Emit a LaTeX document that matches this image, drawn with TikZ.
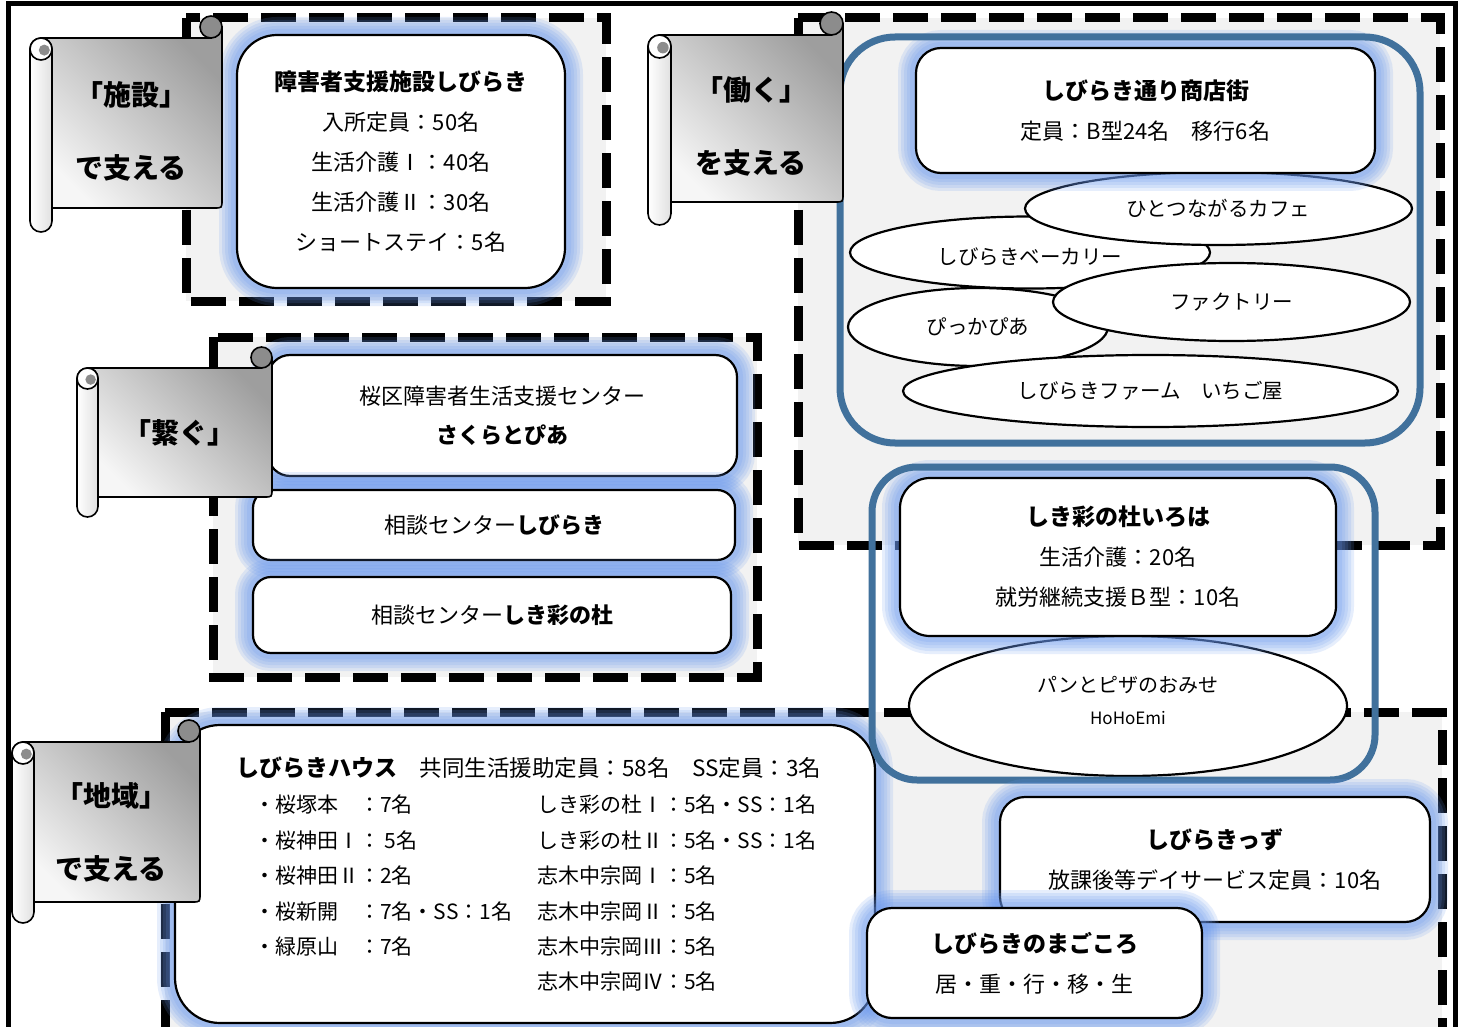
\documentclass[tikz,border=0pt]{standalone}
\usepackage{fontspec}
\setmainfont{Noto Sans CJK JP}
\usetikzlibrary{shapes.geometric}

\definecolor{zonegray}{RGB}{242,242,242}
\definecolor{glowc}{RGB}{105,152,238}
\definecolor{steel}{RGB}{65,113,156}
\definecolor{scrolldark}{RGB}{158,158,158}
\definecolor{scrolllight}{RGB}{246,246,246}
\definecolor{curlgray}{RGB}{140,140,140}

\tikzset{
  zone/.style={draw=black, line width=9pt, dash pattern=on 35pt off 13pt, fill=zonegray},
  glow/.style={preaction={draw=glowc, line width=36pt, opacity=.16},
               preaction={draw=glowc, line width=30pt, opacity=.16},
               preaction={draw=glowc, line width=24pt, opacity=.16},
               preaction={draw=glowc, line width=18pt, opacity=.16},
               preaction={draw=glowc, line width=12pt, opacity=.18}},
  card/.style={draw=black, line width=2.2pt, fill=white, glow, align=center, inner sep=0pt,
               font=\fontsize{22}{40}\selectfont},
  spot/.style={ellipse, draw=black, line width=2.2pt, fill=white, inner sep=0pt, align=center,
               font=\fontsize{20.5}{32}\selectfont},
  steelbox/.style={draw=steel, line width=7pt, inner sep=0pt},
  scrolltext/.style={align=center, font=\bfseries\fontsize{28}{73}\selectfont},
  listtext/.style={align=left, anchor=north west, inner sep=0pt, font=\fontsize{21}{35.4}\selectfont},
}

\begin{document}
\begin{tikzpicture}[x=1pt, y=-1pt]

  \useasboundingbox (0,0) rectangle (1467,1027);
  \clip (0,0) rectangle (1467,1027);
  \fill[white] (0,0) rectangle (1467,1027);
  \draw[line width=5pt] (8,4) rectangle (1455,1060);

  % zones
  \draw[zone] (186,18) rectangle (606,301);
  \draw[zone] (798,18) rectangle (1440,545);
  \draw[zone] (213,337) rectangle (757,677);
  \draw[zone] (165,712) rectangle (1442,1060);

  % shisetsu
  \node[card, rounded corners=40pt, minimum width=328pt, minimum height=253pt] (shisetsu) at (401,161.5)
    {{\bfseries\fontsize{23}{40}\selectfont 障害者支援施設しびらき}\\入所定員：50名\\生活介護Ⅰ：40名\\生活介護Ⅱ：30名\\ショートステイ：5名};

  % hataraku
  \node[spot, minimum width=360pt, minimum height=72pt] (bakery) at (1030,252.5) {};
  \node[font=\fontsize{20.5}{32}\selectfont] (bakerytext) at (1030,257) {しびらきベーカリー};
  \node[spot, minimum width=387pt, minimum height=73pt] (cafe) at (1218.5,208.5) {ひとつながるカフェ};
  \node[spot, minimum width=260pt, minimum height=78pt] (pikka) at (978,327) {ぴっかぴあ};
  \node[spot, minimum width=357pt, minimum height=78pt] (factory) at (1231.5,302) {ファクトリー};
  \node[spot, minimum width=495pt, minimum height=72pt] (farm) at (1150.5,391) {しびらきファーム　いちご屋};
  \node[card, rounded corners=25pt, minimum width=459pt, minimum height=125pt] (shoutengai) at (1145.5,110.5)
    {{\bfseries\fontsize{23}{40}\selectfont しびらき通り商店街}\\定員：B型24名　移行6名};
  \node[steelbox, rounded corners=55pt, minimum width=580pt, minimum height=406pt] (workframe) at (1130,240) {};

  % tsunagu
  \node[card, rounded corners=22pt, minimum width=469pt, minimum height=121pt, font=\fontsize{22}{39}\selectfont]
    (sakura) at (502.5,415.5) {桜区障害者生活支援センター\\\textbf{さくらとぴあ}};
  \node[card, rounded corners=18pt, minimum width=482pt, minimum height=70pt] (soudanA) at (494,525)
    {相談センター\textbf{しびらき}};
  \node[card, rounded corners=18pt, minimum width=478pt, minimum height=76pt] (soudanB) at (492,615)
    {相談センター\textbf{しき彩の杜}};

  % chiiki
  \node[card, rounded corners=45pt, minimum width=700pt, minimum height=298pt] (house) at (525,874) {};
  \node[anchor=west, inner sep=0pt, font=\fontsize{22.5}{26}\selectfont] (housetitle) at (236,768)
    {\textbf{\fontsize{23}{26}\selectfont しびらきハウス}　共同生活援助定員：58名　SS定員：3名};
  \node[listtext] (houseleft) at (254,795)
    {・桜塚本　：7名\\・桜神田Ⅰ： 5名\\・桜神田Ⅱ：2名\\・桜新開　：7名・SS：1名\\・緑原山　：7名};
  \node[listtext] (houseright) at (537,795)
    {しき彩の杜Ⅰ：5名・SS：1名\\しき彩の杜Ⅱ：5名・SS：1名\\志木中宗岡Ⅰ：5名\\志木中宗岡Ⅱ：5名\\志木中宗岡Ⅲ：5名\\志木中宗岡Ⅳ：5名};

  % iroha
  \node[spot, minimum width=438pt, minimum height=140pt] (hohoemi) at (1128,706) {};
  \node[align=center, font=\fontsize{20}{32}\selectfont] (hohoemitext) at (1128,701)
    {パンとピザのおみせ\\{\fontsize{17}{32}\selectfont HoHoEmi}};
  \node[card, rounded corners=30pt, minimum width=436pt, minimum height=158pt] (iroha) at (1118,557)
    {{\bfseries\fontsize{23}{40}\selectfont しき彩の杜いろは}\\生活介護：20名\\就労継続支援Ｂ型：10名};
  \node[steelbox, rounded corners=45pt, minimum width=503pt, minimum height=313pt] (irohaframe) at (1123.5,623.5) {};

  \node[card, rounded corners=25pt, minimum width=430pt, minimum height=125pt] (kids) at (1215,859.5)
    {{\bfseries\fontsize{23}{40}\selectfont しびらきっず}\\放課後等デイサービス定員：10名};
  \node[card, rounded corners=25pt, minimum width=335pt, minimum height=110pt] (magokoro) at (1034.5,963)
    {{\bfseries\fontsize{23}{40}\selectfont しびらきのまごころ}\\居・重・行・移・生};

  % scrolls
  \foreach \lx/\ty/\rx/\by/\sz/\ey in {30/38/222/208/22/232, 648/35/843/202/23/225,
                                      77/368/272/497/21/517, 12/742/200/902/22/923}
  {
    \pgfmathsetmacro\hs{\sz/2}
    \path[draw, line width=1.6pt, top color=scrolldark, bottom color=scrolllight, shading angle=-45]
      (\lx+\hs,\ty) -- (\rx-\hs,\ty) -- (\rx-\hs,\ty-\hs) -- (\rx,\ty-\hs) -- (\rx,\by-8)
      .. controls (\rx,\by) .. (\rx-8,\by) -- (\lx+\hs,\by) -- cycle;
    \draw[line width=1.6pt, fill=curlgray] (\rx-\hs,\ty-\hs) circle (\hs);
    \draw[line width=1.6pt, left color=white, right color=black!12, rounded corners=\hs pt]
      (\lx,\ty) rectangle (\lx+\sz,\ey);
    \draw[line width=1.6pt, fill=white] (\lx+\hs,\ty+\hs) circle (\hs);
    \fill[curlgray] (\lx+\hs*1.3,\ty+\hs*1.1) circle (\hs*0.5);
  }
  \node[scrolltext] (shisetsutag) at (131,131.5) {「施設」\\で支える};
  \node[scrolltext] (hatarakutag) at (751,126.5) {「働く」\\を支える};
  \node[scrolltext] (tsunagutag) at (179,433) {「繋ぐ」};
  \node[scrolltext] (chiikitag) at (111,832.5) {「地域」\\で支える};

\end{tikzpicture}
\end{document}
